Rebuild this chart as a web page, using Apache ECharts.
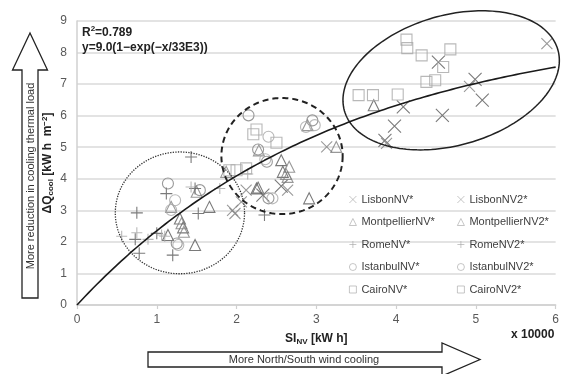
<!DOCTYPE html>
<html>
<head>
<meta charset="utf-8">
<script src="https://cdn.jsdelivr.net/npm/echarts@6/dist/echarts.min.js"></script>
<style>
  html, body { margin: 0; padding: 0; background: #fff; }
  #chart { width: 562px; height: 374px; }
</style>
</head>
<body>
<div id="chart"></div>
<script>
// SI_NV in units of 10 000 kW h, ΔQ_cool in kW h m^-2
const lisbonNV = [[4.53,7.70],[4.99,7.15],[5.08,6.49],[4.58,6.01],[4.09,6.28],[3.98,5.67],[3.86,5.22],[2.56,3.77],[2.33,3.48]];
const lisbonNV2 = [[5.89,8.28],[4.92,6.93],[3.88,5.12],[3.13,5.01],[2.64,3.64],[2.12,3.64],[1.98,2.90],[1.95,3.00],[2.06,3.27]];
const montpellierNV = [[3.72,6.33],[2.56,4.59],[2.58,4.22],[2.27,3.72],[2.91,3.38],[1.66,3.11],[1.29,2.74],[1.33,2.46],[1.48,1.90],[1.14,2.22],[2.25,3.69]];
const montpellierNV2 = [[3.25,5.01],[2.89,5.70],[2.66,4.38],[2.64,4.06],[1.87,4.22],[1.50,3.59],[1.31,2.59],[1.34,2.32],[1.18,3.11],[2.28,4.90],[2.62,4.15]];
const romeNV = [[1.43,4.69],[1.12,3.53],[1.48,3.69],[1.52,2.90],[0.75,2.92],[0.73,2.08],[0.78,1.64],[1.00,2.27],[1.20,1.58],[2.35,2.85]];
const romeNV2 = [[1.43,3.74],[1.79,3.69],[0.56,2.18],[0.75,2.29],[0.89,2.08],[1.06,2.22],[1.10,2.18],[2.14,4.15]];
const istanbulNV = [[2.95,5.85],[2.15,6.01],[2.27,4.93],[2.40,3.38],[1.14,3.85],[1.54,3.64],[1.25,1.95],[2.38,4.54]];
const istanbulNV2 = [[2.87,5.64],[2.98,5.70],[2.40,5.33],[2.45,3.38],[1.23,3.32],[1.27,1.90],[1.18,3.01],[2.36,4.62]];
const cairoNV = [[4.13,8.41],[4.32,7.91],[4.59,7.54],[4.38,7.07],[3.53,6.65],[4.02,6.67],[2.21,5.41],[2.00,4.27]];
const cairoNV2 = [[4.14,8.14],[4.68,8.10],[4.49,7.12],[3.71,6.65],[2.25,5.56],[2.50,5.14],[1.91,4.27],[2.12,4.33]];

const xTicks = [0, 1, 2, 3, 4, 5, 6];
const yTicks = [0, 1, 2, 3, 4, 5, 6, 7, 8, 9];

// Fitted curve y = A(1 - exp(-x/B)), B = 33E3 kW h = 3.3 axis units
const fitA = 9.0;
const fitB = 3.3;
const fitLine = [];
for (let i = 0; i <= 120; i++) {
  const x = i * 0.05;
  fitLine.push([x, fitA * (1 - Math.exp(-x / fitB))]);
}

// Cluster outlines: centre in data units
const clusterCentres = [[1.29, 2.92], [2.57, 4.72], [4.69, 7.12]];

const FONT = '"Liberation Sans", Arial, sans-serif';
const DARK = '#595959';
const MID = '#7f7f7f';
const LIGHT = '#a6a6a6';

const crossPath = 'path://M0,0L10,10M10,0L0,10';
const plusPath = 'path://M5,0L5,10M0,5L10,5';

function pointSeries(name, data, symbol, size, color) {
  return {
    name: name,
    type: 'scatter',
    data: data,
    symbol: symbol,
    symbolSize: size,
    itemStyle: { color: 'transparent', borderColor: color, borderWidth: 1.1 },
    emphasis: { disabled: true },
    z: 3
  };
}

function ringItem(params, api) {
  const idx = params.dataIndex;
  const c = api.coord([api.value(0), api.value(1)]);
  const unit = api.size([1, 1]);
  let rx, ry, rot, style;
  if (idx === 0) {
    rx = 0.81 * unit[0]; ry = 1.93 * unit[1]; rot = 0;
    style = { fill: 'none', stroke: '#333', lineWidth: 1.3, lineDash: [1.3, 1.3] };
  } else if (idx === 1) {
    rx = 0.76 * unit[0]; ry = 1.84 * unit[1]; rot = 0;
    style = { fill: 'none', stroke: '#222', lineWidth: 2, lineDash: [6, 4] };
  } else {
    rx = 111; ry = 65; rot = 16 * Math.PI / 180;
    style = { fill: 'none', stroke: '#222', lineWidth: 1.5 };
  }
  const pts = [];
  for (let k = 0; k < 180; k++) {
    const t = k / 180 * Math.PI * 2;
    const ex = rx * Math.cos(t), ey = ry * Math.sin(t);
    pts.push([c[0] + ex * Math.cos(rot) + ey * Math.sin(rot),
              c[1] - ex * Math.sin(rot) + ey * Math.cos(rot)]);
  }
  return { type: 'polygon', shape: { points: pts }, style: style, silent: true };
}

const chart = echarts.init(document.getElementById('chart'), null, { renderer: 'canvas' });

const legendText = { color: '#404040', fontSize: 11, fontFamily: FONT };
const legendIcon = { color: 'transparent', borderColor: LIGHT, borderWidth: 0.8 };

chart.setOption({
  animation: false,
  backgroundColor: '#ffffff',
  textStyle: { fontFamily: FONT },
  grid: { left: 77, right: 5, top: 21, bottom: 69 },
  legend: [
    {
      data: ['LisbonNV*', 'MontpellierNV*', 'RomeNV*', 'IstanbulNV*', 'CairoNV*'],
      orient: 'vertical', left: 344, top: 189,
      itemWidth: 7, itemHeight: 7, itemGap: 11.5,
      itemStyle: legendIcon,
      textStyle: legendText, selectedMode: false
    },
    {
      data: ['LisbonNV2*', 'MontpellierNV2*', 'RomeNV2*', 'IstanbulNV2*', 'CairoNV2*'],
      orient: 'vertical', left: 452, top: 189,
      itemWidth: 7, itemHeight: 7, itemGap: 11.5,
      itemStyle: legendIcon,
      textStyle: legendText, selectedMode: false
    }
  ],
  xAxis: {
    type: 'value', min: xTicks[0], max: xTicks[xTicks.length - 1], interval: 1,
    name: '{b|SI}{sub|NV}{b| [kW h]}',
    nameLocation: 'middle', nameGap: 27,
    nameTextStyle: {
      rich: {
        b: { fontSize: 12, fontWeight: 'bold', color: '#222', fontFamily: FONT, lineHeight: 14 },
        sub: { fontSize: 8, fontWeight: 'bold', color: '#222', fontFamily: FONT, lineHeight: 8, verticalAlign: 'bottom' }
      }
    },
    axisLine: { lineStyle: { color: '#d0d0d0', width: 1.5 } },
    axisTick: { show: true, length: 4, lineStyle: { color: '#d0d0d0', width: 1.2 } },
    axisLabel: { color: '#595959', fontSize: 12, margin: 9, fontFamily: FONT },
    splitLine: { show: false }
  },
  yAxis: {
    type: 'value', min: yTicks[0], max: yTicks[yTicks.length - 1], interval: 1,
    name: '{b|ΔQ}{sub|cool}{b| [kW h  m}{sup|−2}{b|]}',
    nameLocation: 'middle', nameGap: 22, nameRotate: 90, nameMoveOverlap: false,
    nameTextStyle: {
      rich: {
        b: { fontSize: 12, fontWeight: 'bold', color: '#222', fontFamily: FONT, lineHeight: 14 },
        sub: { fontSize: 8, fontWeight: 'bold', color: '#222', fontFamily: FONT, lineHeight: 8, verticalAlign: 'bottom' },
        sup: { fontSize: 8, fontWeight: 'bold', color: '#222', fontFamily: FONT, lineHeight: 8, verticalAlign: 'top' }
      }
    },
    axisLine: { show: true, lineStyle: { color: '#d0d0d0', width: 1.5 } },
    axisTick: { show: false },
    axisLabel: { color: '#595959', fontSize: 12, margin: 10, fontFamily: FONT },
    splitLine: { lineStyle: { color: '#dadada', width: 1.5 } }
  },
  graphic: [
    // vertical arrow
    {
      type: 'polygon', silent: true, z: 10,
      shape: { points: [[22, 298], [22, 70], [12.5, 70], [30, 33], [47.5, 70], [38, 70], [38, 298]] },
      style: { fill: '#fff', stroke: '#222', lineWidth: 1.3 }
    },
    {
      type: 'text', silent: true, z: 11, x: 30.5, y: 176, rotation: Math.PI / 2,
      style: { text: 'More reduction in cooling thermal load', fill: '#333', fontSize: 11,
               fontFamily: FONT, align: 'center', verticalAlign: 'middle' }
    },
    // horizontal arrow
    {
      type: 'polygon', silent: true, z: 10,
      shape: { points: [[148, 352], [442, 352], [442, 343], [480, 359.5], [442, 376], [442, 367], [148, 367]] },
      style: { fill: '#fff', stroke: '#222', lineWidth: 1.3 }
    },
    {
      type: 'text', silent: true, z: 11, x: 304, y: 360,
      style: { text: 'More North/South wind cooling', fill: '#333', fontSize: 11,
               fontFamily: FONT, align: 'center', verticalAlign: 'middle' }
    },
    {
      type: 'text', silent: true, z: 11, x: 511, y: 329,
      style: { text: 'x 10000', fill: '#222', fontSize: 12, fontWeight: 'bold', fontFamily: FONT }
    },
    {
      type: 'text', silent: true, z: 11, x: 82, y: 25,
      style: {
        text: '{b|R}{sup|2}{b|=0.789}\n{b|y=9.0(1−exp(−x/33E3))}',
        rich: {
          b: { fontSize: 12, fontWeight: 'bold', fill: '#222', fontFamily: FONT, lineHeight: 15 },
          sup: { fontSize: 8, fontWeight: 'bold', fill: '#222', fontFamily: FONT, lineHeight: 8, verticalAlign: 'top' }
        }
      }
    }
  ],
  series: [
    pointSeries('LisbonNV*', lisbonNV, crossPath, 13, DARK),
    pointSeries('LisbonNV2*', lisbonNV2, crossPath, 11, MID),
    pointSeries('MontpellierNV*', montpellierNV, 'triangle', 11, DARK),
    pointSeries('MontpellierNV2*', montpellierNV2, 'triangle', 11, MID),
    pointSeries('RomeNV*', romeNV, plusPath, 12, DARK),
    pointSeries('RomeNV2*', romeNV2, plusPath, 11, LIGHT),
    pointSeries('IstanbulNV*', istanbulNV, 'circle', 11, MID),
    pointSeries('IstanbulNV2*', istanbulNV2, 'circle', 11, LIGHT),
    pointSeries('CairoNV*', cairoNV, 'rect', 11, LIGHT),
    pointSeries('CairoNV2*', cairoNV2, 'rect', 11, LIGHT),
    {
      type: 'custom',
      data: clusterCentres,
      renderItem: ringItem,
      clip: false,
      silent: true,
      z: 4
    },
    {
      type: 'line',
      data: fitLine,
      showSymbol: false,
      symbol: 'none',
      lineStyle: { color: '#1a1a1a', width: 1.6 },
      silent: true,
      z: 5
    }
  ]
});
</script>
</body>
</html>
